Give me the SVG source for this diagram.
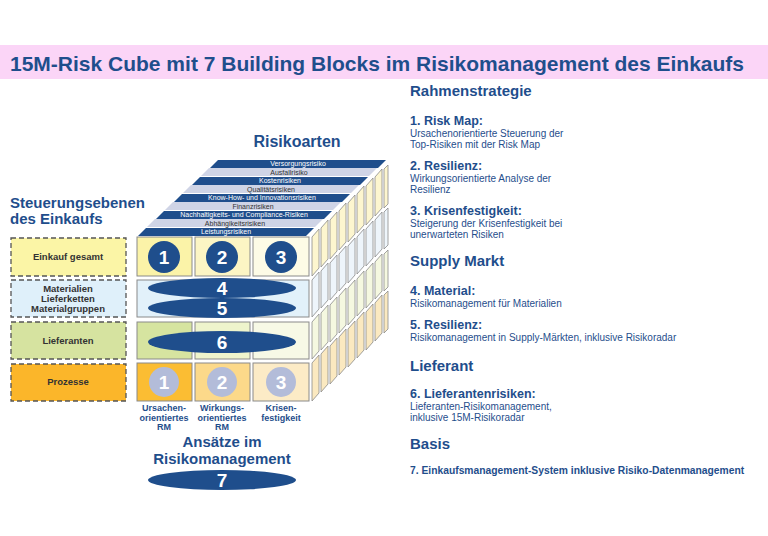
<svg xmlns="http://www.w3.org/2000/svg" width="768" height="536" viewBox="0 0 768 536">
<style>
text{font-family:"Liberation Sans",Arial,sans-serif;fill:#1f4e8c}
.b{font-weight:bold}
.h{font-size:15px;font-weight:bold}
.s{font-size:12.5px;font-weight:bold}
.d{font-size:10px}
.st{font-size:7px;text-anchor:middle}
.dk{fill:#1f4e8c}
.lt{fill:#cfd4e6}
.cell{stroke:#8a8a8a;stroke-width:1}
.box{stroke:#555;stroke-width:1.3;stroke-dasharray:5,3}
.lbl{font-size:9.5px;font-weight:bold;text-anchor:middle;fill:#333}
.num{font-size:19px;font-weight:bold;fill:#fff;text-anchor:middle}
.ax{font-size:9px;font-weight:bold;text-anchor:middle}
</style>
<rect width="768" height="536" fill="#fff"/>
<rect x="0" y="45" width="768" height="34" fill="#fbd5f7"/>
<text x="10" y="71" class="b" font-size="21">15M-Risk Cube mit 7 Building Blocks im Risikomanagement des Einkaufs</text>

<g id="strips">
<polygon class="dk" points="218,160 386,160 378,168 210,168"/><text class="st" x="298" y="166" style="fill:#fff">Versorgungsrisiko</text>
<polygon class="lt" points="209,168 377,168 369,176 201,176"/><text class="st" x="289" y="174.5" style="fill:#333">Ausfallrisiko</text>
<polygon class="dk" points="200,177 368,177 360,185 192,185"/><text class="st" x="280" y="183" style="fill:#fff">Kostenrisiken</text>
<polygon class="lt" points="191,185 359,185 351,193 183,193"/><text class="st" x="271" y="191.5" style="fill:#333">Qualitätsrisiken</text>
<polygon class="dk" points="182,194 350,194 342,202 174,202"/><text class="st" x="262" y="200" style="fill:#fff">Know-How- und Innovationsrisiken</text>
<polygon class="lt" points="173,202 341,202 333,210 165,210"/><text class="st" x="253" y="208.5" style="fill:#333">Finanzrisiken</text>
<polygon class="dk" points="164,211 332,211 324,219 156,219"/><text class="st" x="244" y="217" style="fill:#fff">Nachhaltigkeits- und Compliance-Risiken</text>
<polygon class="lt" points="155,219 323,219 315,227 147,227"/><text class="st" x="235" y="225.5" style="fill:#333">Abhängikeitsrisiken</text>
<polygon class="dk" points="146,228 314,228 306,236 138,236"/><text class="st" x="226" y="234" style="fill:#fff">Leistungsrisiken</text>
</g>

<g id="side" stroke="#8a8a8a" stroke-width="0.8">
<g fill="#fdf6cf">
<polygon points="312,237 319,229 319,268 312,276"/><polygon points="321,228 328,220 328,259 321,267"/><polygon points="330,220 337,212 337,251 330,259"/><polygon points="339,211 346,203 346,242 339,250"/><polygon points="348,203 355,195 355,234 348,242"/><polygon points="357,194 364,186 364,225 357,233"/><polygon points="366,186 373,178 373,217 366,225"/><polygon points="375,177 382,169 382,208 375,216"/><polygon points="384,169 388,165 388,204 384,208"/>
</g>
<g fill="#eef5fb">
<polygon points="312,280 319,272 319,309 312,317"/><polygon points="321,271 328,263 328,300 321,308"/><polygon points="330,263 337,255 337,292 330,300"/><polygon points="339,254 346,246 346,283 339,291"/><polygon points="348,246 355,238 355,275 348,283"/><polygon points="357,237 364,229 364,266 357,274"/><polygon points="366,229 373,221 373,258 366,266"/><polygon points="375,220 382,212 382,249 375,257"/><polygon points="384,212 388,208 388,245 384,249"/>
</g>
<g fill="#f5f8e0">
<polygon points="312,322 319,314 319,351 312,359"/><polygon points="321,313 328,305 328,342 321,350"/><polygon points="330,305 337,297 337,334 330,342"/><polygon points="339,296 346,288 346,325 339,333"/><polygon points="348,288 355,280 355,317 348,325"/><polygon points="357,279 364,271 364,308 357,316"/><polygon points="366,271 373,263 373,300 366,308"/><polygon points="375,262 382,254 382,291 375,299"/><polygon points="384,254 388,250 388,287 384,291"/>
</g>
<g fill="#fbe9c0">
<polygon points="312,363 319,355 319,393 312,401"/><polygon points="321,354 328,346 328,384 321,392"/><polygon points="330,346 337,338 337,376 330,384"/><polygon points="339,337 346,329 346,367 339,375"/><polygon points="348,329 355,321 355,359 348,367"/><polygon points="357,320 364,312 364,350 357,358"/><polygon points="366,312 373,304 373,342 366,350"/><polygon points="375,303 382,295 382,333 375,341"/><polygon points="384,295 388,291 388,329 384,333"/>
</g>
</g>

<g id="front">
<rect class="cell" x="137" y="237" width="55" height="39" fill="#fbf3a8"/>
<rect class="cell" x="195" y="237" width="55" height="39" fill="#fcf5c4"/>
<rect class="cell" x="253" y="237" width="56" height="39" fill="#fdfbe6"/>
<rect class="cell" x="137" y="280" width="172" height="37" fill="#e2f1fa"/>
<rect class="cell" x="137" y="322" width="55" height="37" fill="#d6e4a0"/>
<rect class="cell" x="195" y="322" width="55" height="37" fill="#eef4cc"/>
<rect class="cell" x="253" y="322" width="56" height="37" fill="#f7f9e6"/>
<rect class="cell" x="137" y="363" width="55" height="38" fill="#fbbd33"/>
<rect class="cell" x="195" y="363" width="55" height="38" fill="#fcd98a"/>
<rect class="cell" x="253" y="363" width="56" height="38" fill="#fcebc6"/>
</g>

<g id="n1"><circle cx="164" cy="257" r="16" fill="#1f4e8c"/><text class="num" x="164" y="264">1</text></g>
<g id="n2"><circle cx="222" cy="257" r="16" fill="#1f4e8c"/><text class="num" x="222" y="264">2</text></g>
<g id="n3"><circle cx="281" cy="257" r="16" fill="#1f4e8c"/><text class="num" x="281" y="264">3</text></g>
<g id="n4"><ellipse cx="222" cy="288" rx="74" ry="10" fill="#1f4e8c"/><text class="num" x="222" y="295">4</text></g>
<g id="n5"><ellipse cx="222" cy="308" rx="74" ry="10" fill="#1f4e8c"/><text class="num" x="222" y="315">5</text></g>
<g id="n6"><ellipse cx="222" cy="342" rx="74" ry="11" fill="#1f4e8c"/><text class="num" x="222" y="349">6</text></g>
<g id="b1"><circle cx="164" cy="382" r="15" fill="#b3bcd9"/><text class="num" x="164" y="389">1</text></g>
<g id="b2"><circle cx="222" cy="382" r="15" fill="#b3bcd9"/><text class="num" x="222" y="389">2</text></g>
<g id="b3"><circle cx="281" cy="382" r="15" fill="#b3bcd9"/><text class="num" x="281" y="389">3</text></g>
<g id="n7"><ellipse cx="222" cy="480" rx="74" ry="10" fill="#1f4e8c"/><text class="num" x="222" y="487">7</text></g>

<g id="levels">
<rect class="box" x="11" y="238" width="115" height="38" fill="#fbf5a6"/><text class="lbl" x="68" y="260">Einkauf gesamt</text>
<rect class="box" x="11" y="280" width="115" height="37" fill="#dff0fa"/><text class="lbl" x="68" y="292">Materialien</text><text class="lbl" x="68" y="302">Lieferketten</text><text class="lbl" x="68" y="312">Materialgruppen</text>
<rect class="box" x="11" y="322" width="115" height="37" fill="#d6e3a0"/><text class="lbl" x="68" y="344">Lieferanten</text>
<rect class="box" x="11" y="364" width="115" height="37" fill="#fbb62a"/><text class="lbl" x="68" y="385">Prozesse</text>
</g>

<g id="labels">
<text x="297" y="147" class="b" font-size="16" text-anchor="middle">Risikoarten</text>
<text x="10" y="208" class="b" font-size="15">Steuerungsebenen</text>
<text x="10" y="224" class="b" font-size="15">des Einkaufs</text>
<text class="ax" x="164" y="411">Ursachen-</text><text class="ax" x="164" y="420.5">orientiertes</text><text class="ax" x="164" y="430">RM</text>
<text class="ax" x="222" y="411">Wirkungs-</text><text class="ax" x="222" y="420.5">orientiertes</text><text class="ax" x="222" y="430">RM</text>
<text class="ax" x="281" y="411">Krisen-</text><text class="ax" x="281" y="420.5">festigkeit</text>
<text x="222" y="447" class="b" font-size="15" text-anchor="middle">Ansätze im</text>
<text x="222" y="464" class="b" font-size="15" text-anchor="middle">Risikomanagement</text>
</g>

<g id="right">
<text x="410" y="96" class="h">Rahmenstrategie</text>
<text x="410" y="125" class="s">1. Risk Map:</text>
<text x="410" y="137" class="d">Ursachenorientierte Steuerung der</text>
<text x="410" y="148" class="d">Top-Risiken mit der Risk Map</text>
<text x="410" y="170" class="s">2. Resilienz:</text>
<text x="410" y="182" class="d">Wirkungsorientierte Analyse der</text>
<text x="410" y="193" class="d">Resilienz</text>
<text x="410" y="215" class="s">3. Krisenfestigkeit:</text>
<text x="410" y="227" class="d">Steigerung der Krisenfestigkeit bei</text>
<text x="410" y="238" class="d">unerwarteten Risiken</text>
<text x="410" y="266" class="h">Supply Markt</text>
<text x="410" y="295" class="s">4. Material:</text>
<text x="410" y="307" class="d">Risikomanagement für Materialien</text>
<text x="410" y="329" class="s">5. Resilienz:</text>
<text x="410" y="341" class="d">Risikomanagement in Supply-Märkten, inklusive Risikoradar</text>
<text x="410" y="371" class="h">Lieferant</text>
<text x="410" y="398" class="s">6. Lieferantenrisiken:</text>
<text x="410" y="410" class="d">Lieferanten-Risikomanagement,</text>
<text x="410" y="421" class="d">inklusive 15M-Risikoradar</text>
<text x="410" y="449" class="h">Basis</text>
<text x="410" y="474" class="b" font-size="10.3">7. Einkaufsmanagement-System inklusive Risiko-Datenmanagement</text>
</g>
</svg>
